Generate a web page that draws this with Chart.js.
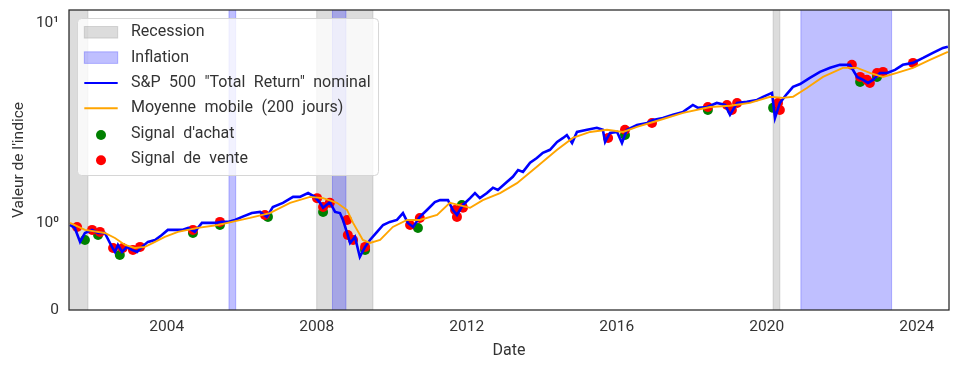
<!DOCTYPE html>
<html>
<head>
<meta charset="utf-8">
<script src="https://cdn.jsdelivr.net/npm/chart.js@4.4.1/dist/chart.umd.min.js"></script>
<style>
  html, body { margin: 0; padding: 0; background: #fff; }
</style>
</head>
<body>
<canvas id="myChart" width="958" height="369"></canvas>
<script>
// S&P 500 total return index (decimal years / index value)
var priceDates = [2001.42, 2001.55, 2001.69, 2001.82, 2002.01, 2002.17, 2002.35, 2002.54, 2002.62, 2002.70,
  2002.81, 2002.94, 2003.07, 2003.21, 2003.34, 2003.50, 2003.69, 2003.87, 2004.03, 2004.22,
  2004.41, 2004.57, 2004.75, 2004.94, 2005.10, 2005.29, 2005.47, 2005.63, 2005.82, 2006.01,
  2006.27, 2006.49, 2006.67, 2006.83, 2007.10, 2007.37, 2007.55, 2007.77, 2007.95, 2008.09,
  2008.17, 2008.35, 2008.49, 2008.62, 2008.70, 2008.81, 2008.89, 2009.02, 2009.15, 2009.29,
  2009.42, 2009.61, 2009.77, 2009.95, 2010.14, 2010.30, 2010.43, 2010.57, 2010.75, 2010.94,
  2011.15, 2011.29, 2011.50, 2011.63, 2011.74, 2011.90, 2012.09, 2012.22, 2012.35, 2012.54,
  2012.70, 2012.83, 2013.07, 2013.23, 2013.37, 2013.50, 2013.69, 2013.87, 2014.03, 2014.22,
  2014.41, 2014.57, 2014.67, 2014.81, 2014.94, 2015.21, 2015.47, 2015.63, 2015.69, 2015.82,
  2016.01, 2016.14, 2016.27, 2016.54, 2016.81, 2016.97, 2017.23, 2017.50, 2017.77, 2018.03,
  2018.17, 2018.41, 2018.67, 2018.89, 2019.02, 2019.21, 2019.47, 2019.74, 2019.90, 2020.14,
  2020.22, 2020.35, 2020.54, 2020.70, 2020.89, 2021.15, 2021.42, 2021.69, 2021.95, 2022.22,
  2022.41, 2022.57, 2022.70, 2022.83, 2023.02, 2023.21, 2023.42, 2023.63, 2023.90, 2024.17,
  2024.43, 2024.70, 2024.83];
var priceValues = [0.977, 0.944, 0.804, 0.891, 0.923, 0.891, 0.891, 0.759, 0.716, 0.776,
  0.716, 0.759, 0.733, 0.716, 0.759, 0.804, 0.822, 0.871, 0.923, 0.923,
  0.923, 0.944, 0.902, 1.0, 1.0, 1.0, 1.012, 1.012, 1.035, 1.072,
  1.12, 1.135, 1.072, 1.20, 1.26, 1.35, 1.35, 1.41, 1.35, 1.26,
  1.19, 1.27, 1.135, 1.12, 1.035, 0.891, 0.794, 0.851, 0.676, 0.759,
  0.822, 0.902, 0.977, 1.012, 1.035, 1.12, 1.0, 0.955, 1.072, 1.16,
  1.27, 1.30, 1.30, 1.16, 1.096, 1.23, 1.33, 1.41, 1.33, 1.41,
  1.50, 1.46, 1.60, 1.70, 1.84, 1.80, 2.00, 2.11, 2.24, 2.32,
  2.54, 2.66, 2.75, 2.51, 2.85, 2.92, 2.99, 2.92, 2.54, 2.82,
  2.85, 2.51, 2.92, 3.09, 3.16, 3.27, 3.35, 3.47, 3.59, 3.89,
  3.76, 3.80, 3.98, 3.89, 3.47, 3.98, 4.03, 4.12, 4.27, 4.47,
  3.35, 3.98, 4.42, 4.79, 4.95, 5.31, 5.69, 5.96, 6.17, 6.17,
  5.37, 5.19, 5.01, 5.19, 5.62, 5.62, 5.82, 6.17, 6.31, 6.68,
  7.08, 7.50, 7.59];

// moyenne mobile 200 jours
var maDates = [2001.42, 2001.82, 2002.35, 2002.62, 2002.89, 2003.15, 2003.42, 2003.69, 2003.95, 2004.30,
  2004.83, 2005.37, 2005.74, 2006.22, 2006.75, 2007.29, 2007.82, 2008.17, 2008.54, 2008.81,
  2008.97, 2009.23, 2009.42, 2009.69, 2010.03, 2010.41, 2010.75, 2011.21, 2011.55, 2012.09,
  2012.43, 2012.89, 2013.34, 2013.87, 2014.41, 2014.83, 2015.29, 2015.74, 2016.17, 2016.54,
  2017.15, 2017.77, 2018.49, 2019.02, 2019.55, 2020.09, 2020.43, 2020.70, 2021.07, 2021.50,
  2022.03, 2022.41, 2022.75, 2023.10, 2023.47, 2023.90, 2024.35, 2024.83];
var maValues = [1.0, 0.923, 0.891, 0.841, 0.776, 0.750, 0.759, 0.804, 0.851, 0.902,
  0.944, 0.977, 1.012, 1.059, 1.12, 1.26, 1.35, 1.33, 1.26, 1.16,
  1.0, 0.822, 0.794, 0.822, 0.955, 1.035, 1.035, 1.096, 1.26, 1.19,
  1.30, 1.41, 1.58, 1.91, 2.32, 2.66, 2.85, 2.92, 2.85, 3.02,
  3.27, 3.55, 3.80, 3.85, 3.98, 4.27, 4.22, 4.27, 4.73, 5.37,
  5.96, 5.96, 5.62, 5.37, 5.62, 5.96, 6.53, 7.16];

var buyDates = [2001.82, 2002.17, 2002.75, 2004.70, 2005.42, 2006.70, 2008.17, 2009.29, 2010.70, 2011.87,
  2016.22, 2018.43, 2020.17, 2022.49, 2022.94];
var buyValues = [0.822, 0.871, 0.692, 0.891, 0.977, 1.072, 1.135, 0.733, 0.944, 1.23,
  2.75, 3.67, 3.76, 5.07, 5.37];

var sellDates = [2001.61, 2002.01, 2002.22, 2002.57, 2002.83, 2003.10, 2003.29, 2004.70, 2005.42, 2006.62,
  2008.01, 2008.17, 2008.35, 2008.81, 2008.83, 2008.97, 2009.29, 2010.49, 2010.75, 2011.69,
  2011.74, 2011.90, 2015.77, 2016.22, 2016.94, 2018.43, 2018.94, 2019.07, 2019.21, 2020.30,
  2020.35, 2022.27, 2022.49, 2022.67, 2022.75, 2022.94, 2023.10, 2023.90];
var sellValues = [0.955, 0.923, 0.902, 0.750, 0.750, 0.733, 0.759, 0.923, 1.012, 1.096,
  1.33, 1.20, 1.26, 1.035, 0.871, 0.822, 0.759, 0.977, 1.059, 1.16,
  1.072, 1.19, 2.66, 2.92, 3.16, 3.80, 3.89, 3.67, 3.98, 3.98,
  3.67, 6.17, 5.37, 5.19, 5.01, 5.62, 5.69, 6.31];

var recessionPeriods = [[2001.2, 2001.90], [2008.0, 2009.5], [2020.17, 2020.35]];
var inflationPeriods = [[2005.66, 2005.84], [2008.42, 2008.78], [2020.91, 2023.33]];

var xTicks = [2004, 2008, 2012, 2016, 2020, 2024];
var yTicks = [0.367, 1, 10];
var yTickLabels = ['0', '10\u2070', '10\u00b9'];

var FONT = 'Roboto, "Open Sans", sans-serif';
var TEXT = '#333333';
var recessionColor = 'rgba(128,128,128,0.28)';
var inflationColor = 'rgba(0,0,255,0.25)';

function pts(xs, ys) {
  return xs.map(function (x, i) { return {x: x, y: ys[i]}; });
}

var bandsPlugin = {
  id: 'bands',
  beforeDatasetsDraw: function (chart) {
    var ctx = chart.ctx, a = chart.chartArea, xs = chart.scales.x;
    ctx.save();
    ctx.beginPath();
    ctx.rect(a.left, a.top, a.right - a.left, a.bottom - a.top);
    ctx.clip();
    function band(p, color) {
      var x1 = xs.getPixelForValue(p[0]), x2 = xs.getPixelForValue(p[1]);
      ctx.fillStyle = color;
      ctx.fillRect(x1, a.top, x2 - x1, a.bottom - a.top);
      ctx.strokeStyle = color;
      ctx.lineWidth = 1;
      ctx.strokeRect(x1, a.top - 2, x2 - x1, a.bottom - a.top + 4);
    }
    recessionPeriods.forEach(function (p) { band(p, recessionColor); });
    inflationPeriods.forEach(function (p) { band(p, inflationColor); });
    ctx.restore();
  },
  afterDatasetsDraw: function (chart) {
    var ctx = chart.ctx, a = chart.chartArea;
    ctx.save();
    ctx.strokeStyle = '#262626';
    ctx.lineWidth = 1.25;
    ctx.strokeRect(a.left, a.top, a.right - a.left, a.bottom - a.top);
    ctx.restore();
  }
};

var legendPlugin = {
  id: 'boxLegend',
  afterDraw: function (chart) {
    var ctx = chart.ctx, a = chart.chartArea;
    var items = [
      {label: 'Recession', kind: 'patch', color: recessionColor},
      {label: 'Inflation', kind: 'patch', color: inflationColor},
      {label: 'S&P 500 "Total Return" nominal', kind: 'line', color: 'blue'},
      {label: 'Moyenne mobile (200 jours)', kind: 'line', color: 'orange'},
      {label: "Signal d'achat", kind: 'dot', color: 'green'},
      {label: 'Signal de vente', kind: 'dot', color: 'red'}
    ];
    ctx.save();
    ctx.font = '16px ' + FONT;
    ctx.wordSpacing = '4.5px';
    var maxW = 0;
    items.forEach(function (it) { maxW = Math.max(maxW, ctx.measureText(it.label).width); });
    var left = a.left + 8.5, top = a.top + 8.5;
    var textX = left + 53.5;
    var w = textX + maxW + 8 - left, h = 157;
    ctx.beginPath();
    ctx.roundRect(left, top, w, h, 4);
    ctx.fillStyle = 'rgba(255,255,255,0.8)';
    ctx.fill();
    ctx.strokeStyle = '#d6d6d6';
    ctx.lineWidth = 1;
    ctx.stroke();
    items.forEach(function (it, i) {
      var cy = top + 13.8 + i * 25.3;
      var hx = left + 6.8;
      if (it.kind === 'patch') {
        ctx.fillStyle = it.color;
        ctx.fillRect(hx, cy - 5.8, 33.4, 11.6);
        ctx.strokeStyle = it.color;
        ctx.strokeRect(hx, cy - 5.8, 33.4, 11.6);
      } else if (it.kind === 'line') {
        ctx.strokeStyle = it.color;
        ctx.lineWidth = 2;
        ctx.beginPath();
        ctx.moveTo(hx, cy);
        ctx.lineTo(hx + 33.4, cy);
        ctx.stroke();
        ctx.lineWidth = 1;
      } else {
        ctx.fillStyle = it.color;
        ctx.beginPath();
        ctx.arc(hx + 16.7, cy + 1.5, 5, 0, Math.PI * 2);
        ctx.fill();
      }
      ctx.fillStyle = TEXT;
      ctx.textBaseline = 'middle';
      ctx.textAlign = 'left';
      ctx.fillText(it.label, textX, cy);
    });
    ctx.restore();
  }
};

new Chart('myChart', {
  data: {
    datasets: [
      {type: 'line', label: 'Moyenne mobile (200 jours)', data: pts(maDates, maValues),
        borderColor: 'orange', borderWidth: 1.9, pointRadius: 0, tension: 0, order: 0},
      {type: 'line', label: 'S&P 500 "Total Return" nominal', data: pts(priceDates, priceValues),
        borderColor: 'blue', borderWidth: 2.6, pointRadius: 0, tension: 0, order: 1},
      {type: 'scatter', label: 'Signal de vente', data: pts(sellDates, sellValues),
        backgroundColor: 'red', borderWidth: 0, pointRadius: 5, order: 2},
      {type: 'scatter', label: "Signal d'achat", data: pts(buyDates, buyValues),
        backgroundColor: 'green', borderWidth: 0, pointRadius: 5, order: 3}
    ]
  },
  options: {
    responsive: false,
    animation: false,
    layout: {padding: {top: 10, right: 9, left: 0, bottom: 0}},
    plugins: {legend: {display: false}, tooltip: {enabled: false}},
    scales: {
      x: {
        type: 'linear',
        min: 2001.395,
        max: 2024.86,
        grid: {display: false, drawTicks: false},
        border: {display: false},
        afterBuildTicks: function (s) { s.ticks = xTicks.map(function (v) { return {value: v}; }); },
        afterFit: function (s) { s.height = 59; s.paddingLeft = 0; s.paddingRight = 0; },
        ticks: {
          padding: 8,
          color: TEXT,
          font: {family: FONT, size: 15.5},
          maxRotation: 0,
          callback: function (v) { return String(v); }
        },
        title: {display: true, text: 'Date', color: TEXT, font: {family: FONT, size: 16},
          padding: {top: 4, bottom: 8}}
      },
      y: {
        type: 'logarithmic',
        min: 0.367,
        max: 11.6,
        grid: {display: false, drawTicks: false},
        border: {display: false},
        afterBuildTicks: function (s) { s.ticks = yTicks.map(function (v) { return {value: v}; }); },
        afterFit: function (s) { s.width = 69; s.paddingTop = 0; s.paddingBottom = 0; },
        ticks: {
          padding: 10,
          color: TEXT,
          font: {family: FONT, size: 15.5},
          callback: function (v) { return yTickLabels[yTicks.indexOf(v)]; }
        },
        title: {display: true, text: "Valeur de l'indice", color: TEXT, font: {family: FONT, size: 15.5},
          padding: {top: 10, bottom: 0}}
      }
    }
  },
  plugins: [bandsPlugin, legendPlugin]
});
</script>
</body>
</html>
